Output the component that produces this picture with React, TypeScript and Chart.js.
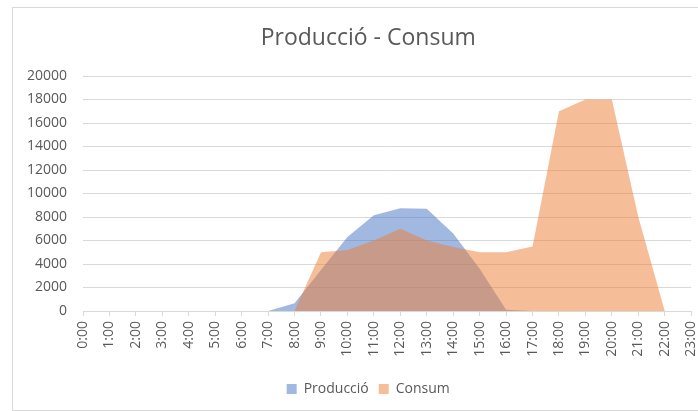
import React, { useEffect, useRef } from "react";
import { Chart, registerables } from "chart.js";

Chart.register(...registerables);

const hours = [
  "0:00", "1:00", "2:00", "3:00", "4:00", "5:00", "6:00", "7:00",
  "8:00", "9:00", "10:00", "11:00", "12:00", "13:00", "14:00", "15:00",
  "16:00", "17:00", "18:00", "19:00", "20:00", "21:00", "22:00", "23:00",
];

const produccio = [
  0, 0, 0, 0, 0, 0, 0, 0,
  650, 3500, 6300, 8150, 8750, 8700, 6600, 3600,
  100, 0, 0, 0, 0, 0, 0, 0,
];

const consum = [
  0, 0, 0, 0, 0, 0, 0, 0,
  0, 5000, 5200, 6000, 7000, 6000, 5450, 5000,
  5000, 5500, 17000, 18000, 18000, 8000, 0, 0,
];

const yMin = 0;
const yMax = 20000;
const yStep = 2000;

const TEXT = "#595959";
const GRID = "#d9d9d9";
const FONT = "'Open Sans', Lato, sans-serif";

export default function App() {
  const ref = useRef<HTMLCanvasElement>(null);

  useEffect(() => {
    const chart = new Chart(ref.current as HTMLCanvasElement, {
      type: "line",
      data: {
        labels: hours,
        datasets: [
          {
            label: "Producció",
            data: produccio,
            fill: "origin",
            backgroundColor: "rgba(68,114,196,0.5)",
            borderColor: "transparent",
            borderWidth: 0,
            pointRadius: 0,
            tension: 0,
            order: 1,
          },
          {
            label: "Consum",
            data: consum,
            fill: "origin",
            backgroundColor: "rgba(237,125,49,0.5)",
            borderColor: "transparent",
            borderWidth: 0,
            pointRadius: 0,
            tension: 0,
            order: 0,
          },
        ],
      },
      options: {
        responsive: false,
        animation: false,
        layout: { padding: { left: 14, right: 3.5, top: 0, bottom: 3 } },
        font: { family: FONT },
        plugins: {
          title: {
            display: true,
            text: "Producció - Consum",
            color: TEXT,
            font: { family: FONT, size: 23, weight: "normal" },
            padding: { top: 17, bottom: 23.4 },
          },
          legend: {
            position: "bottom",
            reverse: true,
            labels: {
              boxWidth: 10,
              boxHeight: 10,
              color: TEXT,
              font: { family: FONT, size: 14 },
              padding: 10,
            },
          },
          tooltip: { enabled: false },
        },
        scales: {
          x: {
            offset: false,
            afterFit: (scale: any) => {
              scale.height = scale.height + 10.3;
            },
            grid: {
              drawOnChartArea: false,
              drawTicks: true,
              tickLength: 5,
              color: GRID,
            },
            border: { color: GRID },
            ticks: {
              minRotation: 90,
              maxRotation: 90,
              autoSkip: false,
              color: TEXT,
              font: { family: FONT, size: 14 },
              padding: 5,
            },
          },
          y: {
            min: yMin,
            max: yMax,
            afterFit: (scale: any) => {
              scale.width = 56;
            },
            grid: { color: GRID, drawTicks: false },
            border: { display: false },
            ticks: {
              stepSize: yStep,
              callback: (v: any) => String(v),
              color: TEXT,
              font: { family: FONT, size: 14 },
              padding: 16,
            },
          },
        },
      } as any,
    });
    return () => chart.destroy();
  }, []);

  return (
    <div
      style={{
        position: "fixed",
        left: 0,
        top: 0,
        width: 698,
        height: 411,
        overflow: "hidden",
        background: "#fff",
      }}
    >
      <div
        style={{
          position: "absolute",
          left: 12,
          top: 7,
          width: 720,
          height: 402,
          border: `1px solid ${GRID}`,
        }}
      />
      <canvas
        ref={ref}
        width={700}
        height={401}
        style={{ position: "absolute", left: 13, top: 8, width: 700, height: 401 }}
      />
    </div>
  );
}
